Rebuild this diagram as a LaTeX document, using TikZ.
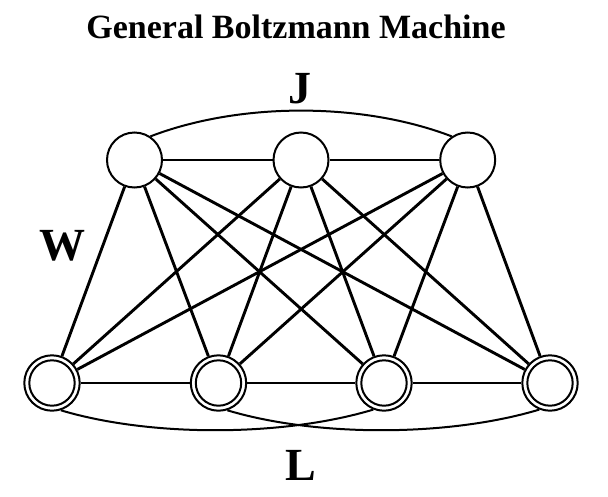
\documentclass[tikz,border=0pt]{standalone}
\usepackage{fontspec}
\setmainfont{Liberation Serif}
\begin{document}
\begin{tikzpicture}[x=1pt,y=-1pt,
  hid/.style={circle,draw,line width=2pt,minimum size=55pt,inner sep=0pt},
  vis/.style={circle,draw,line width=2pt,minimum size=55.4pt,inner sep=0pt},
  edge/.style={line width=2.9pt},
  arc/.style={line width=2pt},
  lbl/.style={font=\bfseries\fontsize{46}{50}\selectfont,anchor=base,inner sep=0pt},
  ttl/.style={font=\bfseries\fontsize{34}{40}\selectfont,anchor=base,inner sep=0pt}]
\useasboundingbox (0,0) rectangle (608,496);
\node[ttl] (title) at (296,38) {General Boltzmann Machine};
\node[hid] (t1) at (134.5,160) {};
\node[hid] (t2) at (301,160) {};
\node[hid] (t3) at (467.7,160) {};
\node[vis] (b1) at (52,383) {};
\node[vis] (b2) at (218.5,383) {};
\node[vis] (b3) at (384,383) {};
\node[vis] (b4) at (550,383) {};
\foreach \b in {b1,b2,b3,b4} \draw[line width=2pt] (\b.center) circle (22.7pt);
\node[lbl] (J) at (300,103) {J};
\node[lbl] (W) at (62.5,260) {W};
\node[lbl] (L) at (301,480) {L};
\foreach \t in {t1,t2,t3}
  \foreach \b in {b1,b2,b3,b4}
    \draw[edge] (\t) -- (\b);
\draw[edge] (t1) -- (t2);
\draw[edge] (t2) -- (t3);
\draw[edge] (b1) -- (b2);
\draw[edge] (b2) -- (b3);
\draw[edge] (b3) -- (b4);
\draw[arc] (t1.56) .. controls (240,102) and (362,102) .. (t3.124);
\draw[arc] (b1.-72) .. controls (150,437) and (282,437) .. (b3.-112);
\draw[arc] (b2.-72) .. controls (316,437) and (448,437) .. (b4.-112);
\end{tikzpicture}
\end{document}
